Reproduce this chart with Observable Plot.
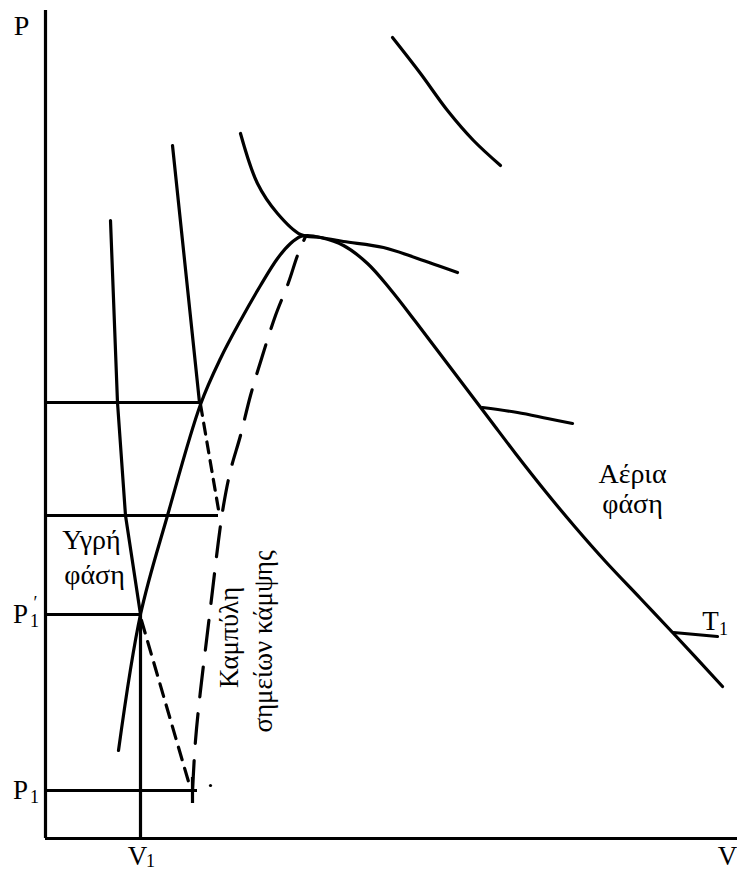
<!DOCTYPE html>
<html>
<head>
<meta charset="utf-8">
<script src="https://cdn.jsdelivr.net/npm/d3@7"></script>
<script src="https://cdn.jsdelivr.net/npm/@observablehq/plot@0.6"></script>
<style>
  html, body { margin: 0; padding: 0; background: #fff; }
  #chart svg { display: block; }
</style>
</head>
<body>
<div id="chart"></div>
<script>
// Values: V (volume, arbitrary units), P (pressure, arbitrary units)
const binodal = [[73,88],[95,224],[122,323],[155,434],[175,480],[195,518],[215,553],[232,580],[245,595],[255,602],[262,603],[275,601],[298,593],[322,575],[345,549],[370,517],[395,484],[420,451],[445,418],[470,385],[500,347],[530,311],[560,277],[595,240],[628,205],[677,152]];
const criticalIsotherm = [[195,705],[212,655],[232,625],[255,604],[275,601],[298,597],[338,591],[372,580],[412,566]];
const highIsotherm = [[347,801],[375,765],[402,728],[428,698],[455,673]];
const gasIsotherm = [[437,431],[472,426],[502,420],[527,415]];
const t1Isotherm = [[628,206],[672,202]];
const liquidIsotherm1 = [[65,618],[72,436],[80,323],[95,224],[95,0]];
const liquidIsotherm2 = [[127,693],[154,436]];
const spinodal = [[147,48],[150,98],[155,148],[161,198],[167,248],[173,298],[178,333],[185,368],[195,403],[205,443],[217,483],[230,523],[243,556],[252,583],[260,602]];
const metastable1 = [[155,434],[174,323]];
const metastable2 = [[96,218],[145,50]];
const pressureLevels = [436, 323, 224, 48];
const levelEnds = [155, 173, 95, 152];
const crossMark = [{V:147, P1:35, P2:61}];
const dotMark = [{V:165, P:53}];

const topLetter = [{V:-24, P:812, t:"P"}];
const mainLetters = [
  {V:-25, P:48, t:"P"},
  {V:-25, P:224, t:"P"},
  {V:92, P:-18, t:"V"},
  {V:682, P:-18, t:"V"},
  {V:665, P:217, t:"T"}
];
const subscripts = [
  {V:-11, P:41, t:"1"},
  {V:-11, P:217, t:"1"},
  {V:105, P:-23, t:"1"},
  {V:678, P:209, t:"1"}
];
const primes = [{V:-10, P:235, t:"′"}];
const phaseLabels = [
  {V:46, P:298, t:"Υγρή"},
  {V:49, P:263, t:"φάση"},
  {V:587, P:364, t:"Αέρια"},
  {V:587, P:334, t:"φάση"}
];
const curveLabels = [
  {V:184, P:201, t:"Καμπύλη"},
  {V:218, P:197, t:"σημείων κάμψης"}
];

const pairX = d => d[0], pairY = d => d[1];
const W = 3.2;
const solid = {x: pairX, y: pairY, stroke: "#000", strokeWidth: W, strokeLinecap: "round", strokeLinejoin: "round"};

const chart = Plot.plot({
  width: 737,
  height: 872,
  marginLeft: 45,
  marginRight: 0,
  marginTop: 0,
  marginBottom: 34,
  x: {domain: [0, 692], axis: null},
  y: {domain: [0, 838], axis: null},
  style: {fontFamily: "'Liberation Serif', serif", background: "#fff", color: "#000"},
  marks: [
    Plot.ruleX([0], {y1: 0, y2: 828, stroke: "#000", strokeWidth: W}),
    Plot.ruleY([0], {x1: 0, x2: 692, stroke: "#000", strokeWidth: W}),
    Plot.ruleY(pressureLevels, {y: d => d, x1: 0, x2: (d, i) => levelEnds[i], stroke: "#000", strokeWidth: W}),
    Plot.line(binodal, {...solid, curve: "catmull-rom"}),
    Plot.line(criticalIsotherm, {...solid, curve: "catmull-rom"}),
    Plot.line(highIsotherm, {...solid, curve: "catmull-rom"}),
    Plot.line(gasIsotherm, {...solid, curve: "catmull-rom"}),
    Plot.line(t1Isotherm, solid),
    Plot.line(liquidIsotherm1, solid),
    Plot.line(liquidIsotherm2, solid),
    Plot.line(spinodal, {x: pairX, y: pairY, stroke: "#000", strokeWidth: W, strokeDasharray: "30,17", curve: "catmull-rom"}),
    Plot.line(metastable1, {x: pairX, y: pairY, stroke: "#000", strokeWidth: W, strokeDasharray: "11,8"}),
    Plot.line(metastable2, {x: pairX, y: pairY, stroke: "#000", strokeWidth: W, strokeDasharray: "13,9"}),
    Plot.ruleX(crossMark, {x: "V", y1: "P1", y2: "P2", stroke: "#000", strokeWidth: W}),
    Plot.dot(dotMark, {x: "V", y: "P", r: 1.6, fill: "#000"}),
    Plot.text(topLetter, {x: "V", y: "P", text: "t", fontSize: 28, textAnchor: "middle", lineAnchor: "middle", fill: "#000"}),
    Plot.text(mainLetters, {x: "V", y: "P", text: "t", fontSize: 27, textAnchor: "middle", lineAnchor: "middle", fill: "#000"}),
    Plot.text(subscripts, {x: "V", y: "P", text: "t", fontSize: 18, textAnchor: "middle", lineAnchor: "middle", fill: "#000"}),
    Plot.text(primes, {x: "V", y: "P", text: "t", fontSize: 18, textAnchor: "middle", lineAnchor: "middle", fill: "#000"}),
    Plot.text(phaseLabels, {x: "V", y: "P", text: "t", fontSize: 28, textAnchor: "middle", lineAnchor: "middle", fill: "#000"}),
    Plot.text(curveLabels, {x: "V", y: "P", text: "t", fontSize: 27, rotate: -90, textAnchor: "middle", lineAnchor: "middle", fill: "#000"})
  ]
});
document.getElementById("chart").appendChild(chart);
</script>
</body>
</html>
